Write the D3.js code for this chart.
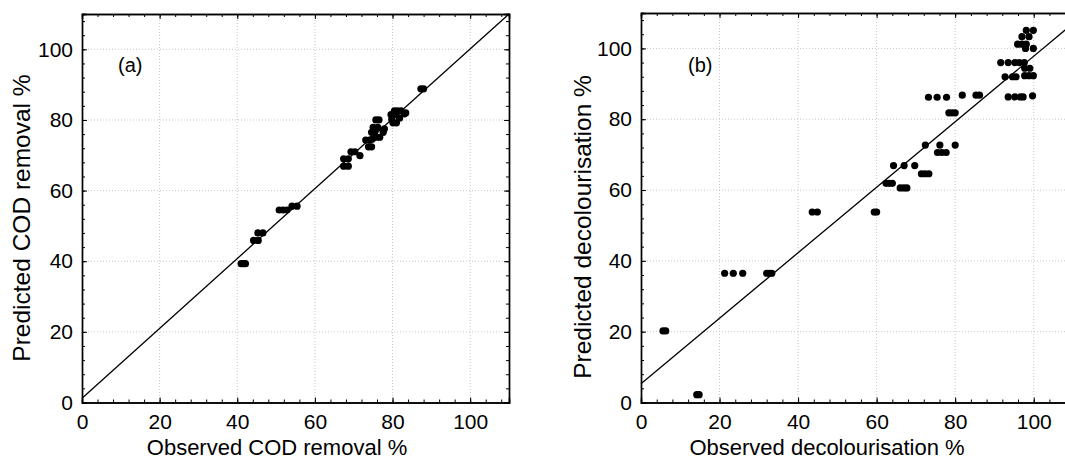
<!DOCTYPE html>
<html>
<head>
<meta charset="utf-8">
<script src="https://cdn.jsdelivr.net/npm/d3@7"></script>
<style>
  body { margin: 0; background: #fff; }
  text { font-family: "Liberation Sans", Arial, sans-serif; fill: #000; }
</style>
</head>
<body>
<svg width="1065" height="462"></svg>
<script>
// panel (a) : COD removal, observed vs predicted
var codObs  = [41.0, 41.6, 42.1, 44.2, 45.4, 45.3, 46.6, 50.8, 51.8, 52.8, 54.1, 55.4,
               67.4, 68.6, 67.4, 68.6, 69.3, 70.3, 71.6, 73.1, 74.1, 73.8, 74.6,
               74.6, 75.4, 75.0, 76.2, 75.7, 76.5, 77.6, 77.9, 75.9, 76.7, 74.8,
               79.6, 80.9, 80.5, 81.3, 82.2, 80.1, 81.0, 79.8, 81.8, 83.0, 83.4,
               87.3, 88.0];
var codPred = [39.3, 39.3, 39.3, 45.9, 45.9, 48.0, 48.0, 54.5, 54.5, 54.5, 55.6, 55.6,
               66.9, 66.9, 69.0, 69.0, 71.0, 71.0, 69.9, 74.3, 74.3, 72.4, 72.4,
               76.5, 76.5, 77.9, 77.9, 80.0, 80.0, 76.5, 77.5, 75.1, 75.1, 74.6,
               81.5, 81.5, 82.6, 82.6, 82.6, 79.2, 79.2, 80.2, 80.5, 81.7, 82.0,
               88.8, 88.8];

// panel (b) : decolourisation, observed vs predicted
var decObs  = [5.6, 6.3, 14.2, 14.8, 21.3, 23.5, 25.9, 32.0, 32.7, 33.3,
               43.6, 44.9, 59.4, 60.0, 62.4, 63.2, 64.0, 64.3, 67.0, 69.7,
               66.0, 66.9, 67.7, 71.4, 72.3, 73.3, 72.4, 76.1, 80.0,
               75.5, 76.6, 77.7, 73.2, 75.4, 77.8, 78.4, 79.2, 80.0,
               81.8, 85.3, 86.2, 91.6, 93.5, 95.2, 96.3, 97.6,
               92.7, 94.6, 95.5, 97.7, 98.8, 99.9, 97.7, 99.0,
               93.5, 95.2, 96.6, 97.3, 99.7, 98.1, 99.9, 97.0, 98.8,
               95.9, 97.0, 98.1, 97.9, 99.9];
var decPred = [20.2, 20.2, 2.2, 2.2, 36.5, 36.5, 36.5, 36.5, 36.5, 36.5,
               53.8, 53.8, 53.8, 53.8, 61.9, 61.9, 61.9, 66.9, 66.9, 66.9,
               60.6, 60.6, 60.6, 64.6, 64.6, 64.6, 72.7, 72.7, 72.7,
               70.6, 70.6, 70.6, 86.2, 86.2, 86.2, 81.8, 81.8, 81.8,
               86.8, 86.8, 86.8, 96.0, 96.0, 96.0, 96.0, 96.0,
               92.0, 92.0, 92.0, 92.3, 92.3, 92.3, 94.4, 94.4,
               86.3, 86.3, 86.3, 86.3, 86.6, 105.1, 105.1, 103.3, 103.3,
               101.2, 101.2, 101.2, 100.0, 100.0];

// fitted lines: [intercept, slope]
var codFit = [1.2, 0.989];
var decFit = [5.3, 0.925];

var axisMax = 110;
var majorTicks = [0, 20, 40, 60, 80, 100];
var gridTicks = [20, 40, 60, 80, 100];

var svg = d3.select("svg");

var panels = [
    { obs: codObs, pred: codPred, fit: codFit, tag: "(a)",
      xTitle: "Observed COD removal %", yTitle: "Predicted COD removal %",
      left: 82, right: 509, top: 14, bottom: 402.5,
      tagX: 118, xTitleX: 277, yTitleX: 30, yTitleY: 218 },
    { obs: decObs, pred: decPred, fit: decFit, tag: "(b)",
      xTitle: "Observed decolourisation %", yTitle: "Predicted decolourisation %",
      left: 641, right: 1073, top: 13, bottom: 402.5,
      tagX: 688, xTitleX: 827, yTitleX: 591, yTitleY: 227 }
];

panels.forEach(drawPanel);

function drawPanel(p) {
    var x = d3.scaleLinear().domain([0, axisMax]).range([p.left, p.right]);
    var y = d3.scaleLinear().domain([0, axisMax]).range([p.bottom, p.top]);
    var g = svg.append("g");

    // dotted grid
    g.selectAll(".gx").data(gridTicks).enter().append("line")
        .attr("x1", d => x(d)).attr("x2", d => x(d))
        .attr("y1", p.top).attr("y2", p.bottom)
        .attr("stroke", "#c8c8c8").attr("stroke-dasharray", "1,2");
    g.selectAll(".gy").data(gridTicks).enter().append("line")
        .attr("y1", d => y(d)).attr("y2", d => y(d))
        .attr("x1", p.left).attr("x2", p.right)
        .attr("stroke", "#c8c8c8").attr("stroke-dasharray", "1,2");

    var minor = d3.range(0, axisMax + 1, 4);

    // axes, ticks pointing inward on all four sides
    function addAxis(axis, tr, labels) {
        var a = g.append("g").attr("transform", tr);
        a.call(axis.tickValues(minor).tickSize(-3).tickFormat(""));
        var b = g.append("g").attr("transform", tr);
        b.call(axis.tickValues(majorTicks).tickSize(-5).tickFormat(labels ? d3.format("d") : ""));
        [a, b].forEach(s => {
            s.select(".domain").attr("stroke", "#000").attr("stroke-width", 1.4);
            s.selectAll(".tick line").attr("stroke", "#000").attr("stroke-width", 1);
        });
        b.selectAll("text").attr("font-size", 21).attr("font-family", "Liberation Sans, Arial, sans-serif");
        return b;
    }
    addAxis(d3.axisBottom(x).tickPadding(12), "translate(0," + p.bottom + ")", true);
    addAxis(d3.axisTop(x), "translate(0," + p.top + ")", false);
    addAxis(d3.axisLeft(y).tickPadding(9), "translate(" + p.left + ",0)", true);
    addAxis(d3.axisRight(y), "translate(" + p.right + ",0)", false);

    // fitted line
    g.append("line")
        .attr("x1", x(0)).attr("y1", y(p.fit[0]))
        .attr("x2", x(axisMax)).attr("y2", y(p.fit[0] + p.fit[1] * axisMax))
        .attr("stroke", "#000").attr("stroke-width", 1.3);

    // points
    g.selectAll(".pt").data(p.obs).enter().append("circle")
        .attr("cx", d => x(d))
        .attr("cy", (d, i) => y(p.pred[i]))
        .attr("r", 3.6)
        .attr("fill", "#000");

    g.append("text").attr("x", p.tagX).attr("y", 72)
        .attr("font-size", 20).text(p.tag);

    g.append("text").attr("x", p.xTitleX).attr("y", 455)
        .attr("text-anchor", "middle").attr("font-size", 22).text(p.xTitle);

    g.append("text")
        .attr("transform", "translate(" + p.yTitleX + "," + p.yTitleY + ") rotate(-90)")
        .attr("text-anchor", "middle").attr("font-size", 24.5).text(p.yTitle);
}
</script>
</body>
</html>
